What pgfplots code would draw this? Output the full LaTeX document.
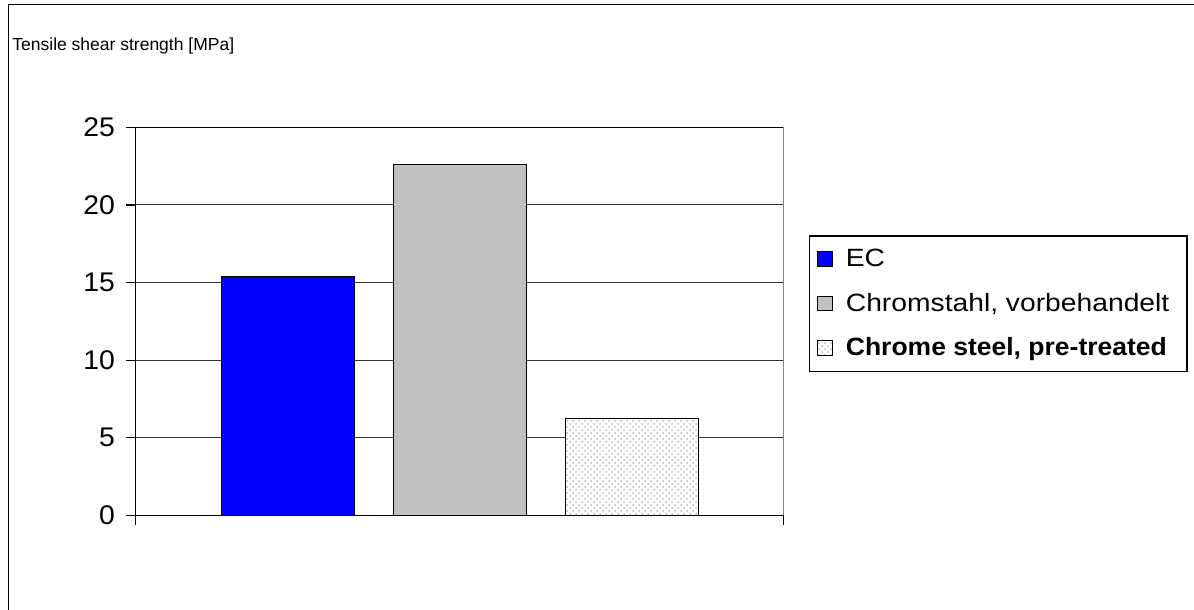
\documentclass[border=0pt]{standalone}
\usepackage{fontspec}
\setmainfont{Liberation Sans}
\newfontfamily\legfont[FakeStretch=1.13, BoldFeatures={FakeStretch=1.06}]{Liberation Sans}
\newfontfamily\tickfont[FakeStretch=1.05]{Liberation Sans}
\usepackage{pgfplots}
\pgfplotsset{compat=1.18}
\usetikzlibrary{patterns}
\definecolor{ecblue}{RGB}{0,0,255}
\definecolor{csgray}{RGB}{192,192,192}
\begin{document}
\begin{tikzpicture}[x=1pt,y=1pt]
\useasboundingbox (0,0) rectangle (597,305);
\draw[line width=0.9pt] (4.25,-10) -- (4.25,302.75) -- (610,302.75);
\node[anchor=base west, font=\fontsize{8.75}{10}\selectfont, inner sep=0] at (6,279.5) {Tensile shear strength [MPa]};
\begin{axis}[
  at={(79,61)}, anchor=south west, scale only axis,
  width=324pt, height=194pt,
  xmin=0.116, xmax=3.884, ymin=0, ymax=25,
  ytick={0,5,...,25},
  xtick={0.116,3.884}, xticklabels={},
  xtick pos=bottom, ytick pos=left,
  tick align=outside, major tick length=5pt,
  tick style={black, line width=0.6pt},
  axis line style={black, line width=0.6pt},
  ymajorgrids, grid style={black!80, line width=0.55pt},
  /pgf/number format/assume math mode=true,
  yticklabel style={font=\tickfont\fontsize{13.5}{15}\selectfont, xshift=-2pt},
  ybar, bar width=0.773, bar shift=0pt,
  legend image code/.code={\draw[#1, line width=0.5pt] (0pt,-3.7pt) rectangle (7.2pt,3.7pt);},
  legend style={at={(1.0386,0.7216)}, anchor=north west, draw=black, line width=0.6pt,
    font=\legfont\fontsize{12.5}{14}\selectfont, row sep=7.8pt, inner xsep=4pt, inner ysep=4.5pt,
    /tikz/every odd column/.append style={column sep=4.5pt}},
  legend cell align=left,
]
\addplot[fill=ecblue, draw=black, line width=0.8pt] coordinates {(1,15.4)};
\addlegendentry{EC}
\addplot[fill=csgray, draw=black, line width=0.8pt] coordinates {(2,22.6)};
\addlegendentry{Chromstahl, vorbehandelt}
\addplot[fill=white, draw=black, line width=0.8pt, postaction={pattern=crosshatch dots, pattern color=gray!55}] coordinates {(3,6.25)};
\addlegendentry{\textbf{Chrome steel, pre-treated}\kern4pt\null}
\draw[gray, line width=0.6pt] (rel axis cs:1,0) -- (rel axis cs:1,1);
\end{axis}
\end{tikzpicture}
\end{document}
